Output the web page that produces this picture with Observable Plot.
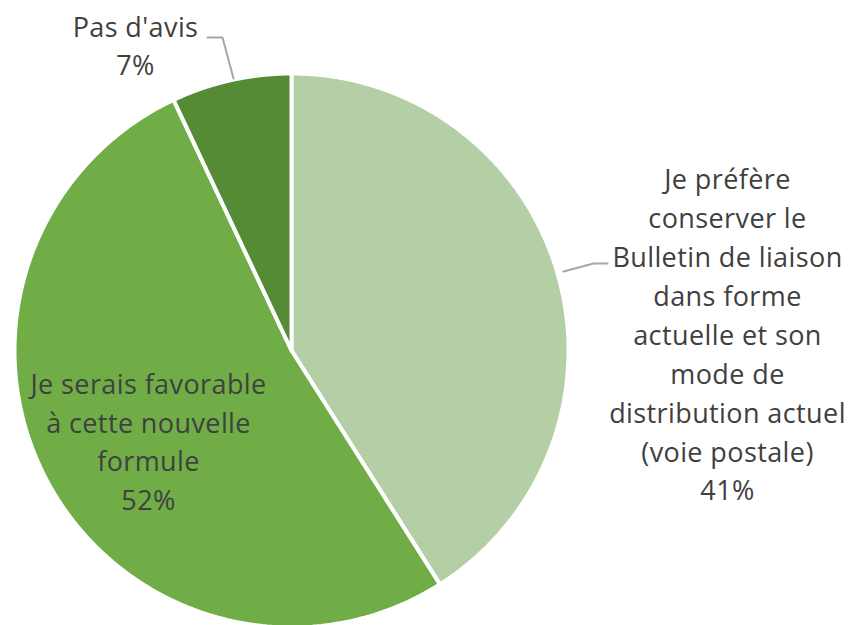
<!DOCTYPE html>
<html><head><meta charset="utf-8">
<script src="https://cdn.jsdelivr.net/npm/d3@7"></script>
<script src="https://cdn.jsdelivr.net/npm/@observablehq/plot@0.6"></script>
<style>body{margin:0;background:#fff} svg text{font-variant-ligatures:none;letter-spacing:0.4px}</style>
</head><body><div id="chart"></div>
<script>
const categories = [
  "Je préfère conserver le Bulletin de liaison dans forme actuelle et son mode de distribution actuel (voie postale)",
  "Je serais favorable à cette nouvelle formule",
  "Pas d'avis"
];
const labelLines = [
  "Je préfère\nconserver le\nBulletin de liaison\ndans forme\nactuelle et son\nmode de\ndistribution actuel\n(voie postale)",
  "Je serais favorable\nà cette nouvelle\nformule",
  "Pas d'avis"
];
const values = [41, 52, 7];
const colors = ["#b4cea6", "#70ad47", "#558b35"];

const W = 850, H = 625, CX = 291, CY = 350, R = 277;
const total = d3.sum(values);
const pie = d3.pie().sort(null).value(d => d)(values);
const pts = [];
pie.forEach((s, i) => {
  pts.push({k: i, x: 0, y: 0});
  const n = 200;
  for (let j = 0; j <= n; j++) {
    const a = s.startAngle + (s.endAngle - s.startAngle) * j / n;
    pts.push({k: i, x: Math.sin(a), y: Math.cos(a)});
  }
  pts.push({k: i, x: 0, y: 0});
});
const px = p => (p - CX) / R, py = p => (CY - p) / R;
const labels = [
  {i: 0, x: px(727), y: py(332)},
  {i: 1, x: px(148), y: py(439)},
  {i: 2, x: px(135), y: py(43)}
].map(d => ({...d, text: labelLines[d.i] + "\n" + Math.round(values[d.i] / total * 100) + "%"}));
const leaders = [
  {k: 0, x: px(563), y: py(271)}, {k: 0, x: px(593), y: py(263)}, {k: 0, x: px(607), y: py(263)},
  {k: 2, x: px(207), y: py(37)}, {k: 2, x: px(222), y: py(37)}, {k: 2, x: px(233), y: py(78)}
];

const chart = Plot.plot({
  width: W, height: H,
  margin: 0,
  x: {domain: [px(0), px(W)], axis: null},
  y: {domain: [py(H), py(0)], axis: null},
  style: {fontFamily: "'Open Sans', sans-serif", background: "#fff"},
  marks: [
    Plot.line(pts, {x: "x", y: "y", z: "k", fill: d => colors[d.k], stroke: "#fff", strokeWidth: 4, strokeLinejoin: "miter", curve: "linear"}),
    Plot.line(leaders, {x: "x", y: "y", z: "k", stroke: "#a6a6a6", strokeWidth: 2}),
    Plot.text(labels, {x: "x", y: "y", text: "text", fill: "#404040", fontSize: 27, lineHeight: 1.44, textAnchor: "middle"})
  ]
});
document.getElementById("chart").append(chart);
</script></body></html>
